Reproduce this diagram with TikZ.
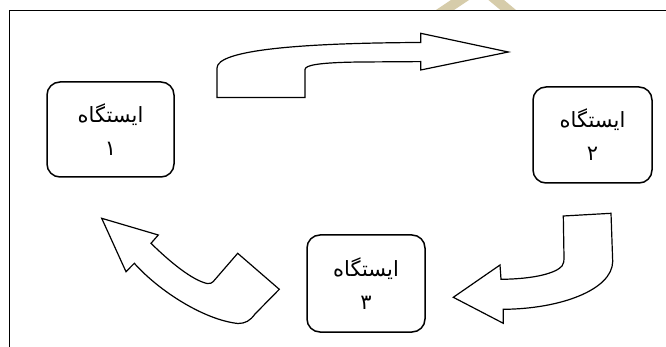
\documentclass[tikz,border=0pt]{standalone}
\usepackage{fontspec}
\newfontfamily\fa[Script=Arabic]{DejaVu Sans}
\TeXXeTstate=1
\definecolor{wmtan}{RGB}{214,204,170}
\begin{document}
\begin{tikzpicture}[x=1pt,y=-1pt,
  stationbox/.style={draw, line width=1.5pt, rounded corners=13pt, align=center, inner sep=0pt,
    font=\fa\fontsize{21}{24}\selectfont},
  blockarrow/.style={draw, line width=1.2pt, fill=white, line join=miter},
  frameline/.style={line width=1.7pt},
  wmstroke/.style={draw=wmtan, line width=10pt}]
\useasboundingbox (0,0) rectangle (666,347);
\clip (0,0) rectangle (666,347);
% faint watermark
\begin{scope}
\clip (0,0) rectangle (666,10);
\draw[wmstroke] (439,14) -- (469,-6);
\draw[wmstroke] (489,-6) -- (513,14);
\end{scope}
% frame
\draw[frameline] (9.5,360) -- (9.5,10.5) -- (680,10.5);
% stations
\node[stationbox, minimum width=127pt, minimum height=95pt] (s1) at (110.5,129.5)
  {\beginR ایستگاه\endR\\[9pt]\beginR ۱\endR};
\node[stationbox, minimum width=119pt, minimum height=96pt] (s2) at (592.5,135)
  {\beginR ایستگاه\endR\\[9pt]\beginR ۲\endR};
\node[stationbox, minimum width=118pt, minimum height=97pt] (s3) at (366,283.5)
  {\beginR ایستگاه\endR\\[9pt]\beginR ۳\endR};
% arrow 1 -> 2 (top)
\draw[blockarrow] (217,97.5) -- (217,68) .. controls (217,50) and (300,43) .. (420.7,42.5)
  -- (420.7,33.3) -- (508.3,52) -- (420.7,70) -- (420.7,61.6)
  -- (360,62) .. controls (320,62.5) and (305,65) .. (305,69.5) -- (305,97.5) -- cycle;
% arrow 2 -> 3 (right)
\draw[blockarrow] (563.3,216) -- (611,213.3) -- (612.7,261.7)
  .. controls (612,290) and (560,309) .. (503.3,309.3)
  -- (503.3,323.3) -- (453.3,297.3) -- (500,265) -- (501,279.3)
  .. controls (535,279) and (556,273) .. (562,266)
  .. controls (564,263) and (564,261) .. (564,258) -- cycle;
% arrow 3 -> 1 (left)
\draw[blockarrow] (101.7,218.3) -- (158.3,235) -- (151,243.3)
  .. controls (170,262) and (192,280) .. (207,283.5)
  .. controls (210,284) and (212,283) .. (213.3,281.5)
  -- (237.7,253.3) -- (279.3,289.3) -- (255,314)
  .. controls (250,321) and (245,323.5) .. (238,323.5)
  .. controls (205,320) and (160,292) .. (134.3,263.3)
  -- (126,271.7) -- cycle;
\end{tikzpicture}
\end{document}
